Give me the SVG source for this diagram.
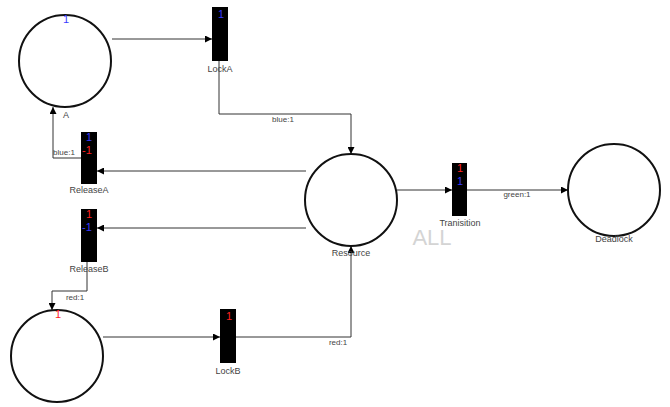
<svg xmlns="http://www.w3.org/2000/svg" width="670" height="407" viewBox="0 0 670 407">
<style>
.place{fill:#fff;stroke:#111;stroke-width:2}
.trans{fill:#000;stroke:none}
.lbl{font-family:"Liberation Sans",Arial,sans-serif;font-size:9px;fill:#444;text-anchor:middle}
.elbl{font-family:"Liberation Sans",Arial,sans-serif;font-size:8px;fill:#444;text-anchor:middle}
.tok{font-family:"Liberation Sans",Arial,sans-serif;font-size:11px;text-anchor:middle}
.edge{fill:none;stroke:#333;stroke-width:1}
</style>
<defs>
<marker id="arr" viewBox="0 0 10 10" refX="10" refY="5" markerWidth="7" markerHeight="7" orient="auto" markerUnits="userSpaceOnUse">
<path d="M0,0 L10,5 L0,10 z" fill="#000"/>
</marker>
</defs>
<rect width="670" height="407" fill="#fff"/>
<g id="connectors">
<path class="edge" d="M112,39 H212" marker-end="url(#arr)"/>
<path class="edge" d="M219,61 V114 H351 V154" marker-end="url(#arr)"/>
<text class="elbl" x="283" y="122">blue:1</text>
<path class="edge" d="M306,171 H97" marker-end="url(#arr)"/>
<path class="edge" d="M306,228 H97" marker-end="url(#arr)"/>
<path class="edge" d="M81,158 H53 V107" marker-end="url(#arr)"/>
<text class="elbl" x="64" y="155">blue:1</text>
<path class="edge" d="M87,262 V291 H52 V310" marker-end="url(#arr)"/>
<text class="elbl" x="75" y="300">red:1</text>
<path class="edge" d="M103,337 H220" marker-end="url(#arr)"/>
<path class="edge" d="M236,337 H351 V246" marker-end="url(#arr)"/>
<text class="elbl" x="338" y="345">red:1</text>
<path class="edge" d="M397,190 H452" marker-end="url(#arr)"/>
<path class="edge" d="M467,190 H568" marker-end="url(#arr)"/>
<text class="elbl" x="517" y="197">green:1</text>
</g>
<g id="A">
<circle class="place" cx="65" cy="61" r="46"/>
<text class="tok" x="66" y="23" fill="#3a3aff">1</text>
<text class="lbl" x="66" y="118">A</text>
</g>
<g id="LockA">
<rect class="trans" x="212" y="7" width="16" height="54"/>
<text class="tok" x="221" y="18" fill="#3a3aff">1</text>
<text class="lbl" x="220" y="72">LockA</text>
</g>
<g id="ReleaseA">
<rect class="trans" x="81" y="132" width="16" height="52"/>
<text class="tok" x="89" y="141" fill="#3a3aff">1</text>
<text class="tok" x="87" y="154" fill="#ff2020">-1</text>
<text class="lbl" x="89" y="193">ReleaseA</text>
</g>
<g id="ReleaseB">
<rect class="trans" x="81" y="209" width="16" height="53"/>
<text class="tok" x="89" y="218" fill="#ff2020">1</text>
<text class="tok" x="87" y="231" fill="#3a3aff">-1</text>
<text class="lbl" x="89" y="272">ReleaseB</text>
</g>
<g id="B">
<circle class="place" cx="57" cy="356" r="46"/>
<text class="tok" x="58" y="318" fill="#ff2020">1</text>
<text class="lbl" x="57" y="413">B</text>
</g>
<g id="LockB">
<rect class="trans" x="220" y="309" width="16" height="54"/>
<text class="tok" x="229" y="320" fill="#ff2020">1</text>
<text class="lbl" x="228" y="374">LockB</text>
</g>
<g id="Resource">
<circle class="place" cx="351" cy="200" r="46"/>
<text class="lbl" x="351" y="256">Resource</text>
</g>
<g id="Tranisition">
<rect class="trans" x="452" y="163" width="15" height="53"/>
<text class="tok" x="460" y="172" fill="#ff2020">1</text>
<text class="tok" x="460" y="185" fill="#3a3aff">1</text>
<text class="lbl" x="460" y="226">Tranisition</text>
</g>
<g id="Deadlock">
<circle class="place" cx="614" cy="190" r="46"/>
<text class="lbl" x="614" y="242">Deadlock</text>
</g>
<text x="432" y="245" font-family="'Liberation Sans',Arial,sans-serif" font-size="22" fill="#d4d4d4" text-anchor="middle">ALL</text>
</svg>
